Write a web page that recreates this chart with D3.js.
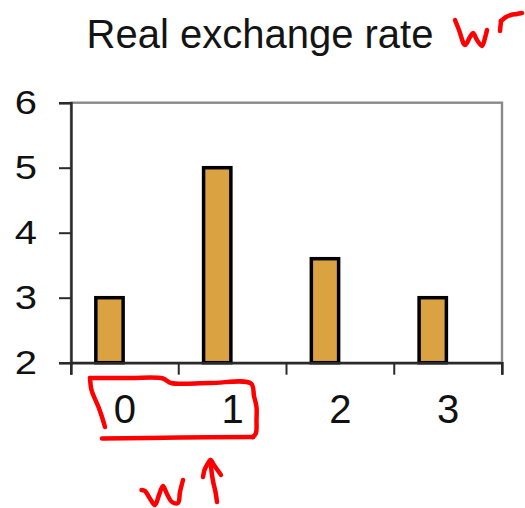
<!DOCTYPE html>
<html>
<head>
<meta charset="utf-8">
<script src="https://cdn.jsdelivr.net/npm/d3@7"></script>
<style>
  html, body { margin: 0; padding: 0; background: #fff; }
  svg { display: block; font-family: "Liberation Sans", Arial, sans-serif; }
</style>
</head>
<body>
<svg id="chart" width="525" height="508"></svg>
<script>
// Chart data
const title = "Real exchange rate";
const categories = ["0", "1", "2", "3"];
const values = [3, 5, 3.6, 3];
const yTicks = [2, 3, 4, 5, 6];
const yDomain = [2, 6];
// Two series slots per period (Excel-style cluster); only the first is filled
const seriesSlots = ["rate", "empty"];

// Hand-drawn red pen strokes (pixel paths)
const penStrokes = [
  // "wr" next to the title
  [[455,20],[459,30],[465,45],[470,37],[473,33],[477,40],[482,46],[485,38],[487,30]],
  [[500,31],[500.5,26],[501,21]],
  [[501,21],[506,17],[511,15],[517,14],[522,13]],
  // box around labels 0 and 1
  [[90,378],[91.5,390],[95,399],[98.5,407],[102,417],[105,427]],
  [[90,378],[130,378],[163,378.5],[171,383],[210,383],[251,383.5],[254,396],[256.5,407],[256.5,420],[256,433],[253,437]],
  [[253,437],[180,437.5],[102,438.5]],
  // "w" and upward arrow below
  [[141.5,490],[145,491],[149,497],[155,505],[159,495],[163,486],[167,494],[172,502],[178,503],[180,492],[183,480]],
  [[217,502],[215.5,492],[213,481],[211.5,471],[210.5,460]],
  [[203,477],[204.5,470],[207,465],[210.5,460],[214,465],[217.5,470],[221,475]]
];

const svg = d3.select("#chart");
const plot = { left: 71, right: 502, top: 102.7, bottom: 362.7 };

const x = d3.scaleBand().domain(categories).range([plot.left, plot.right]).padding(0);
const xs = d3.scaleBand().domain(seriesSlots).range([0, x.bandwidth()])
  .paddingInner(0).paddingOuter(0.75);
const y = d3.scaleLinear().domain(yDomain).range([plot.bottom, plot.top]);

// Title
svg.append("text")
  .attr("x", 260).attr("y", 47.5)
  .attr("text-anchor", "middle")
  .attr("font-size", 40)
  .attr("fill", "#141414")
  .text(title);

// Plot frame (top and right edges in grey)
svg.append("rect")
  .attr("x", plot.left).attr("y", plot.top)
  .attr("width", plot.right - plot.left).attr("height", plot.bottom - plot.top)
  .attr("fill", "none").attr("stroke", "#8a8a8a").attr("stroke-width", 2.4);

// Bars
const bw = xs.bandwidth();
svg.append("g").selectAll("rect")
  .data(categories.map((c, i) => ({ c, v: values[i] })))
  .join("rect")
  .attr("x", d => x(d.c) + xs("rate") + 1.75)
  .attr("width", bw - 3.5)
  .attr("y", d => y(d.v))
  .attr("height", d => y(yDomain[0]) - y(d.v))
  .attr("fill", "#dba241")
  .attr("stroke", "#000")
  .attr("stroke-width", 3.5);

// Left axis
const yAxis = svg.append("g")
  .attr("transform", `translate(${plot.left},0)`)
  .call(d3.axisLeft(y).tickValues(yTicks).tickFormat(d3.format("d")).tickSize(12).tickPadding(22));
yAxis.select(".domain").attr("stroke", "#2a2a2a").attr("stroke-width", 2.4);
yAxis.selectAll(".tick line").attr("stroke", "#2a2a2a").attr("stroke-width", 2);
yAxis.selectAll(".tick text")
  .attr("font-size", 40)
  .attr("fill", "#111")
  .attr("transform", "scale(1,0.84)")
  .attr("font-family", "Liberation Sans, Arial, sans-serif");

// Bottom axis: labels centred in each period
const xAxis = svg.append("g")
  .attr("transform", `translate(0,${plot.bottom})`)
  .call(d3.axisBottom(x).tickSize(12).tickPadding(19.5));
xAxis.select(".domain").attr("stroke", "#2a2a2a").attr("stroke-width", 2.4);
xAxis.selectAll(".tick line").remove();
xAxis.selectAll(".tick text")
  .attr("font-size", 40)
  .attr("fill", "#111")
  .attr("font-family", "Liberation Sans, Arial, sans-serif");

// Tick marks at the boundaries between periods
const bounds = categories.map(c => x(c)).concat([x(categories[categories.length - 1]) + x.step()]);
xAxis.selectAll(".bound")
  .data(bounds)
  .join("line")
  .attr("class", "bound")
  .attr("x1", d => d).attr("x2", d => d)
  .attr("y1", 0).attr("y2", 12)
  .attr("stroke", "#2a2a2a").attr("stroke-width", 2);

// Red pen annotations
const pen = d3.line().curve(d3.curveCatmullRom.alpha(0.5));
svg.append("g").selectAll("path")
  .data(penStrokes)
  .join("path")
  .attr("d", pen)
  .attr("fill", "none")
  .attr("stroke", "#ff0000")
  .attr("stroke-width", 4.5)
  .attr("stroke-linecap", "round")
  .attr("stroke-linejoin", "round");
</script>
</body>
</html>
